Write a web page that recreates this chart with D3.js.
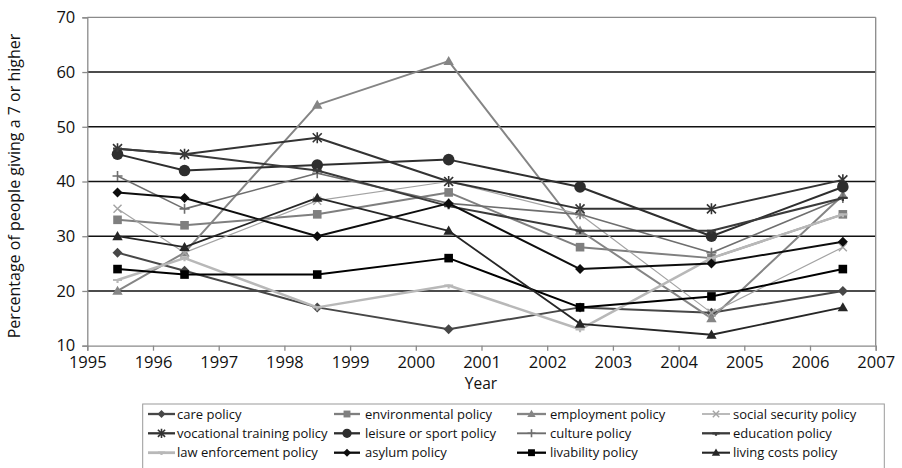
<!DOCTYPE html>
<html><head><meta charset="utf-8">
<script src="https://cdn.jsdelivr.net/npm/d3@7"></script>
<style>body{margin:0;background:#fff;} svg{display:block;font-family:"Open Sans",sans-serif;}</style>
</head><body><svg id="c" width="902" height="468"></svg>
<script>
const years = [1995.46, 1996.48, 1998.5, 2000.5, 2002.5, 2004.5, 2006.5];
const xTicks = [1995,1996,1997,1998,1999,2000,2001,2002,2003,2004,2005,2006,2007];
const yTicks = [10,20,30,40,50,60,70];

const care = [27, 23.7, 17, 13, 17, 16, 20];
const environmental = [33, 32, 34, 38, 28, 26, 34];
const employment = [20, 27, 54, 62, 31, 15, 37.5];
const socialSecurity = [35, 27, 36.5, 40, 34, 16, 28];
const vocational = [46, 45, 48, 40, 35, 35, 40.3];
const leisure = [45, 42, 43, 44, 39, 30, 39];
const culture = [41, 35, 41.5, 36, 34, 27, 37];
const education = [46, 45, 42, 35.5, 31, 31, 37];
const lawEnforcement = [22, 26, 17, 21, 13, 26, 34];
const asylum = [38, 37, 30, 36, 24, 25, 29];
const livability = [24, 23, 23, 26, 17, 19, 24];
const livingCosts = [30, 28, 37, 31, 14, 12, 17];

const seriesNames = ["care policy","environmental policy","employment policy","social security policy",
 "vocational training policy","leisure or sport policy","culture policy","education policy",
 "law enforcement policy","asylum policy","livability policy","living costs policy"];
const seriesValues = [care, environmental, employment, socialSecurity, vocational, leisure, culture, education, lawEnforcement, asylum, livability, livingCosts];
const colors = ["#474747","#7f7f7f","#858585","#a3a3a3","#333333","#2e2e2e","#6e6e6e","#3a3a3a","#b8b8b8","#0d0d0d","#000000","#262626"];
const widths = [2,2,2,1.2,2,2,1.6,2,2.5,2,2,1.8];
const markers = ["diamond","square","triangle","x","asterisk","circle","plus","dash","dash","diamond","square","triangle"];

const svg = d3.select("#c");
const x = d3.scaleLinear().domain([1995,2007]).range([87.3,875.7]);
const y = d3.scaleLinear().domain([10,70]).range([345.7,17.3]);

svg.append("g").selectAll("line").data(yTicks.filter(v=>v>10)).join("line")
  .attr("x1",x(1995)).attr("x2",x(2007)).attr("y1",d=>y(d)).attr("y2",d=>y(d))
  .attr("stroke",d=>d===70?"#8a8a8a":"#111").attr("stroke-width",d=>d===70?1.3:1.6);
svg.append("line").attr("x1",x(2007)).attr("x2",x(2007)).attr("y1",y(70)).attr("y2",y(10)).attr("stroke","#8a8a8a").attr("stroke-width",1.3);

const yAxis = svg.append("g").attr("transform",`translate(${x(1995)},0)`)
  .call(d3.axisLeft(y).tickValues(yTicks).tickSize(5).tickPadding(7).tickFormat(d3.format("d")));
const xAxis = svg.append("g").attr("transform",`translate(0,${y(10)})`)
  .call(d3.axisBottom(x).tickValues(xTicks).tickSize(5).tickPadding(6).tickFormat(d3.format("d")));
[yAxis,xAxis].forEach(a=>{
  a.selectAll(".domain").attr("stroke","#8a8a8a").attr("stroke-width",1.3);
  a.selectAll(".tick line").attr("stroke","#8a8a8a").attr("stroke-width",1.3);
  a.selectAll("text").attr("font-size",16.5).attr("fill","#111").attr("font-family","Open Sans");
});

svg.append("text").attr("x",481).attr("y",389).attr("text-anchor","middle").attr("font-size",15.5).attr("fill","#111").text("Year");
svg.append("text").attr("transform","translate(20,186) rotate(-90)").attr("text-anchor","middle").attr("font-size",16).attr("fill","#111").text("Percentage of people giving a 7 or higher");

function drawMarker(g, type, cx, cy, color, s){
  s = s||1;
  if(type==="circle"){ g.append("circle").attr("cx",cx).attr("cy",cy).attr("r",5.8*s).attr("fill",color); }
  else if(type==="square"){ const h=4.3*s; g.append("rect").attr("x",cx-h).attr("y",cy-h).attr("width",2*h).attr("height",2*h).attr("fill",color); }
  else if(type==="diamond"){ const h=5*s; g.append("path").attr("d",`M${cx},${cy-h}L${cx+h},${cy}L${cx},${cy+h}L${cx-h},${cy}Z`).attr("fill",color); }
  else if(type==="triangle"){ const h=5.2*s; g.append("path").attr("d",`M${cx},${cy-h}L${cx+h},${cy+h*0.75}L${cx-h},${cy+h*0.75}Z`).attr("fill",color); }
  else if(type==="x"){ const h=4*s; g.append("path").attr("d",`M${cx-h},${cy-h}L${cx+h},${cy+h}M${cx-h},${cy+h}L${cx+h},${cy-h}`).attr("stroke",color).attr("stroke-width",1.4); }
  else if(type==="asterisk"){ const h=4.5*s; g.append("path").attr("d",`M${cx-h},${cy-h}L${cx+h},${cy+h}M${cx-h},${cy+h}L${cx+h},${cy-h}M${cx},${cy-h-1}L${cx},${cy+h+1}`).attr("stroke",color).attr("stroke-width",1.6); }
  else if(type==="plus"){ const h=5*s; g.append("path").attr("d",`M${cx-h},${cy}L${cx+h},${cy}M${cx},${cy-h}L${cx},${cy+h}`).attr("stroke",color).attr("stroke-width",1.6); }
  else if(type==="dash"){ const h=4.5*s; g.append("path").attr("d",`M${cx-h},${cy}L${cx+h},${cy}M${cx},${cy}L${cx},${cy+3*s}`).attr("stroke",color).attr("stroke-width",2.2); }
}

const line = d3.line().x((d,i)=>x(years[i])).y(d=>y(d));
const plot = svg.append("g");
seriesValues.forEach((vals,k)=>{
  const g = plot.append("g");
  g.append("path").datum(vals).attr("d",line).attr("fill","none").attr("stroke",colors[k]).attr("stroke-width",widths[k]).attr("stroke-linejoin","round");
  vals.forEach((v,i)=>drawMarker(g, markers[k], x(years[i]), y(v), colors[k], 1));
});

svg.append("rect").attr("x",142.7).attr("y",404).attr("width",741.6).attr("height",80).attr("fill","none").attr("stroke","#9a9a9a").attr("stroke-width",1);
const colSym = [[148,175],[334,360],[517,546],[702,730]];
const colText = [177,365,550,733];
const rowY = [414,433.3,452.7];
seriesNames.forEach((name,k)=>{
  const c = k%4, r = Math.floor(k/4);
  const g = svg.append("g");
  g.append("line").attr("x1",colSym[c][0]).attr("x2",colSym[c][1]).attr("y1",rowY[r]).attr("y2",rowY[r]).attr("stroke",colors[k]).attr("stroke-width",widths[k]+0.3);
  drawMarker(g, markers[k], (colSym[c][0]+colSym[c][1])/2, rowY[r], colors[k], 0.8);
  g.append("text").attr("x",colText[c]).attr("y",rowY[r]+4.5).attr("font-size",13).attr("fill","#111").text(name);
});
</script></body></html>
